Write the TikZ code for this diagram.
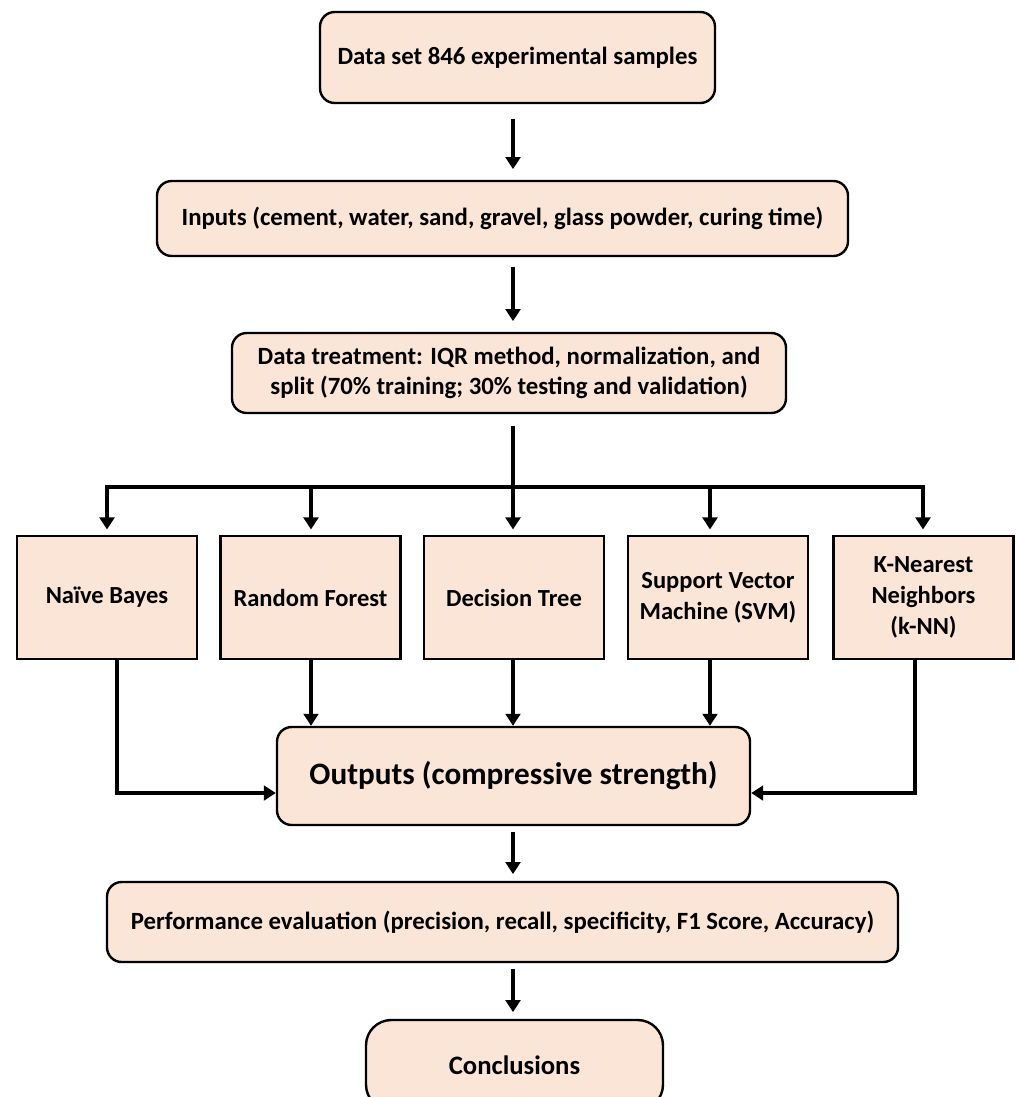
\documentclass[tikz,border=0pt]{standalone}
\usepackage{fontspec}
\setmainfont{Carlito}
\usetikzlibrary{arrows.meta,calc}
\definecolor{peach}{HTML}{FBE5D6}

\begin{document}
\begin{tikzpicture}[x=0.75pt,y=-0.75pt,line width=1.8pt]
    % `stage' is used for the rounded boxes in the main column.
    % `model' is used for the five classifier boxes.
    % `arr' is used for every connector.
    \tikzstyle{stage} = [draw,fill=peach,rounded corners=11pt,font=\bfseries\fontsize{18.6}{23}\selectfont,align=center]
    \tikzstyle{model} = [draw,fill=peach,minimum width=135pt,minimum height=92.25pt,font=\bfseries\fontsize{18.4}{23}\selectfont,align=center]
    \tikzstyle{arr} = [line width=2.3pt,-{Triangle[width=11pt,length=9pt]}]
    \useasboundingbox (0,0) rectangle (1018,1097);
    %
    \node[stage,minimum width=296.25pt,minimum height=68.25pt] (data) at (517.5,57.5) {Data set 846 experimental samples};
    \node[stage,minimum width=518.25pt,minimum height=56.25pt] (inputs) at (502.5,218.5) {Inputs (cement, water, sand, gravel, glass powder, curing time)};
    \node[stage,minimum width=415.5pt,minimum height=60pt] (treat) at (509,373) {Data treatment: IQR method, normalization, and\\split (70\% training; 30\% testing and validation)};
    %
    \node[model] (nb) at (107,597.5) {Naïve Bayes};
    \node[model] (rf) at (310.5,597.5) {Random Forest};
    \node[model] (dt) at (514,597.5) {Decision Tree};
    \node[model] (svm) at (718,597.5) {Support Vector\\Machine (SVM)};
    \node[model] (knn) at (923.5,597.5) {K-Nearest\\Neighbors\\(k-NN)};
    %
    \node[stage,minimum width=354.75pt,minimum height=73.5pt,font=\bfseries\fontsize{23.4}{28}\selectfont] (out) at (513.5,776) {Outputs (compressive strength)};
    \node[stage,minimum width=593.25pt,minimum height=60pt] (perf) at (502.5,922) {Performance evaluation (precision, recall, specificity, F1 Score, Accuracy)};
    \node[stage,minimum width=222.75pt,minimum height=67.5pt,rounded corners=19pt,font=\bfseries\fontsize{20}{24}\selectfont] (concl) at (514.5,1065) {Conclusions};
    %
    \coordinate (bus) at (513,487);
    \coordinate (busl) at (107,487);
    \coordinate (busr) at (923,487);
    % Draw lines.
    \draw[arr,shorten <=11pt,shorten >=8pt] (513,0 |- data.south) -- (513,0 |- inputs.north);
    \draw[arr,shorten <=7pt,shorten >=8pt] (513,0 |- inputs.south) -- (513,0 |- treat.north);
    \draw[line width=2.3pt,shorten <=9pt] (513,0 |- treat.south) -- (bus);
    \draw[line width=2.3pt,line cap=rect] (busl) -- (busr);
    \draw[arr,shorten >=4pt] (busl) -- (nb.north);
    \draw[arr,shorten >=4pt] (busl -| 311,0) -- (311,0 |- rf.north);
    \draw[arr,shorten >=4pt] (bus) -- (513,0 |- dt.north);
    \draw[arr,shorten >=4pt] (busl -| 710,0) -- (710,0 |- svm.north);
    \draw[arr,shorten >=4pt] (busr) -- (923,0 |- knn.north);
    %
    \draw[arr] (311,0 |- rf.south) -- (311,0 |- out.north);
    \draw[arr] (513,0 |- dt.south) -- (513,0 |- out.north);
    \draw[arr] (710,0 |- svm.south) -- (710,0 |- out.north);
    \draw[arr] (117,0 |- nb.south) |- (out.west |- 0,793);
    \draw[arr] (915,0 |- knn.south) |- (out.east |- 0,793);
    %
    \draw[arr,shorten <=4pt,shorten >=5pt] (513,0 |- out.south) -- (513,0 |- perf.north);
    \draw[arr,shorten <=4pt,shorten >=5pt] (513,0 |- perf.south) -- (513,0 |- concl.north);
\end{tikzpicture}
\end{document}
